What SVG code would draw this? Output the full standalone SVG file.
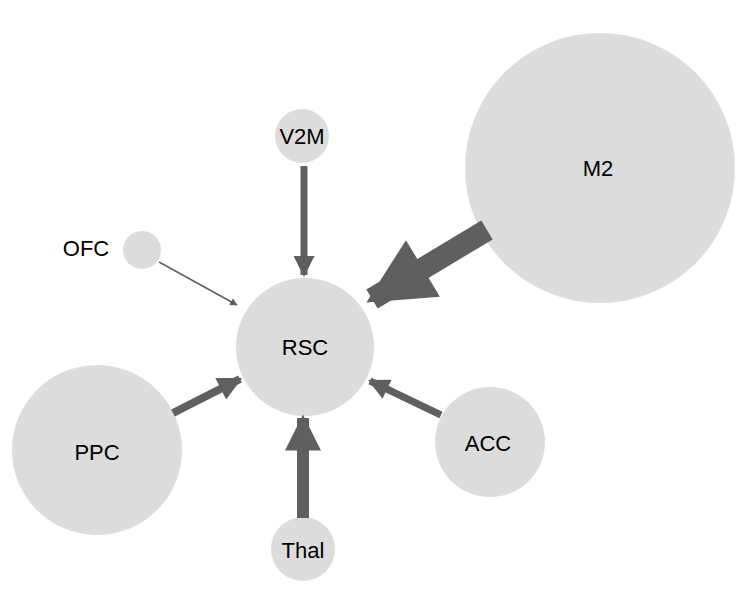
<svg xmlns="http://www.w3.org/2000/svg" width="748" height="608" viewBox="0 0 748 608">
<style>
.n{fill:#dcdcdc}
.t{font-family:"Liberation Sans",Arial,sans-serif;font-size:22px;fill:#000;text-anchor:middle;dominant-baseline:central}
.e{stroke:#5f5f5f;fill:none}
</style>
<defs>
<marker id="a" viewBox="0 0 10 10" refX="9" refY="5" markerWidth="3.3" markerHeight="3" orient="auto" markerUnits="strokeWidth"><path d="M0,0L10,5L0,10z" fill="#5f5f5f"/></marker>
<marker id="b" viewBox="0 0 10 10" refX="9" refY="5" markerWidth="6" markerHeight="5" orient="auto" markerUnits="strokeWidth"><path d="M0,0L10,5L0,10z" fill="#5f5f5f"/></marker>
</defs>
<rect width="748" height="608" fill="#fff"/>
<g id="RSC"><circle class="n" cx="305" cy="347" r="69"/><text class="t" x="305" y="347">RSC</text></g>
<g id="M2"><circle class="n" cx="600" cy="168" r="135"/><text class="t" x="598" y="168">M2</text></g>
<g id="V2M"><circle class="n" cx="302" cy="136" r="27"/><text class="t" x="302" y="136">V2M</text></g>
<g id="OFC"><circle class="n" cx="142" cy="250" r="19"/><text class="t" x="86" y="248">OFC</text></g>
<g id="PPC"><circle class="n" cx="97" cy="450" r="85"/><text class="t" x="97" y="452">PPC</text></g>
<g id="ACC"><circle class="n" cx="490" cy="442" r="55"/><text class="t" x="488" y="443">ACC</text></g>
<g id="Thal"><circle class="n" cx="303" cy="549" r="32"/><text class="t" x="303" y="550">Thal</text></g>
<g id="connectors">
<line class="e" x1="487" y1="230" x2="372" y2="299" stroke-width="22" marker-end="url(#a)"/>
<line class="e" x1="304" y1="166" x2="304" y2="275" stroke-width="7" marker-end="url(#a)"/>
<line class="e" x1="159" y1="262" x2="237" y2="305" stroke-width="1.5" marker-end="url(#b)"/>
<line class="e" x1="173" y1="413" x2="240" y2="379" stroke-width="8" marker-end="url(#a)"/>
<line class="e" x1="441" y1="415" x2="370" y2="381" stroke-width="7" marker-end="url(#a)"/>
<line class="e" x1="303" y1="518" x2="303" y2="418" stroke-width="12" marker-end="url(#a)"/>
</g>
</svg>
